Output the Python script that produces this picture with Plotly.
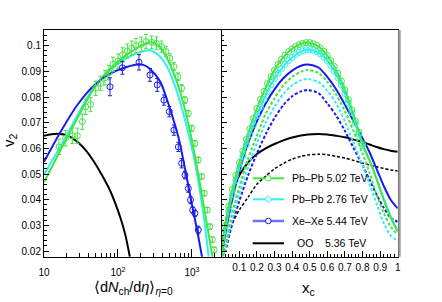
import plotly.graph_objects as go

# ---------------- Left panel: v2 vs <dNch/deta> ----------------
pbpb502_n = [15.96, 19.63, 24.15, 28.18, 32.96, 36.56, 42.66, 49.89, 58.34, 66.68, 75.51, 85.51,
             100.0, 115.6, 133.7, 153.1, 175.0, 206.5, 238.8, 285.1, 331.1, 389.0, 444.6, 501.2,
             570.2, 645.7, 724.4, 803.5, 891.3, 988.6, 1096, 1216, 1349, 1466, 1611, 1750, 1884, 1995]
pbpb502_v2 = [0.0606, 0.0639, 0.0649, 0.0649, 0.0704, 0.0762, 0.0771, 0.0834, 0.0853, 0.0875, 0.0895, 0.0927,
              0.0940, 0.0964, 0.0979, 0.0990, 0.1000, 0.1005, 0.1016, 0.1013, 0.1009, 0.0996, 0.0977, 0.0951,
              0.0918, 0.0879, 0.0834, 0.0788, 0.0736, 0.0678, 0.0619, 0.0555, 0.0490, 0.0425, 0.0360, 0.0295,
              0.0245, 0.0205]
pbpb502_err = [0.0030, 0.0030, 0.0030, 0.0030, 0.0030, 0.0030, 0.0028, 0.0028, 0.0028, 0.0028, 0.0028, 0.0028,
               0.0028, 0.0028, 0.0028, 0.0028, 0.0028, 0.0028, 0.0028, 0.0025, 0.0025, 0.0022, 0.0020, 0.0018,
               0.0016, 0.0015, 0.0014, 0.0013, 0.0012, 0.0012, 0.0011, 0.0011, 0.0010, 0.0010, 0.0010, 0.0010,
               0.0010, 0.0010]

xexe_n = [78.0, 114.6, 192.3, 270.4, 339.6, 417.8, 493.2, 570.2, 653.1, 724.4, 803.5, 891.3, 955.0, 1021, 1096, 1216]
xexe_v2 = [0.0840, 0.0914, 0.0935, 0.0886, 0.0847, 0.0788, 0.0743, 0.0671, 0.0606, 0.0542, 0.0496, 0.0444,
           0.0399, 0.0360, 0.0347, 0.0282]
xexe_err = [0.0035, 0.0025, 0.0030, 0.0025, 0.0025, 0.0020, 0.0020, 0.0020, 0.0018, 0.0018, 0.0015, 0.0015,
            0.0015, 0.0012, 0.0012, 0.0015]

model502_n = [10, 18.6, 28.2, 47.4, 79.4, 133.7, 223.9, 285.1, 354.8, 446.7, 562.3, 707.9, 912.0, 1122, 1349, 1622, 1905]
model502_v2 = [0.0468, 0.0619, 0.0717, 0.0834, 0.0912, 0.0966, 0.1005, 0.1013, 0.1000, 0.0958, 0.0895, 0.0810,
               0.0685, 0.0555, 0.0425, 0.0290, 0.0172]
model276_n = [10, 18.6, 28.2, 47.4, 79.4, 133.7, 223.9, 269.2, 354.8, 446.7, 562.3, 707.9, 891.3, 1072, 1288, 1479, 1679]
model276_v2 = [0.0499, 0.0632, 0.0728, 0.0840, 0.0905, 0.0953, 0.0979, 0.0982, 0.0963, 0.0925, 0.0860, 0.0770,
               0.0660, 0.0560, 0.0430, 0.0310, 0.0178]
modelxe_n = [10, 16.8, 28.2, 47.4, 79.4, 133.7, 182.0, 223.9, 269.2, 371.5, 446.7, 537.0, 660.7, 831.8, 1000, 1175, 1380]
modelxe_v2 = [0.0548, 0.0665, 0.0769, 0.0845, 0.0892, 0.0918, 0.0927, 0.0924, 0.0910, 0.0860, 0.0800, 0.0730,
              0.0639, 0.0500, 0.0380, 0.0280, 0.0170]
modeloo_n = [10, 12.6, 15.8, 21.4, 28.2, 36.3, 47.4, 61.7, 79.4, 108.6, 125.9, 144.5]
modeloo_v2 = [0.0649, 0.0655, 0.0657, 0.0648, 0.0626, 0.0594, 0.0548, 0.0492, 0.0431, 0.0327, 0.0262, 0.0178]

# ---------------- Right panel: v2 vs x_c ----------------
xc_pts = [0.00, 0.02, 0.04, 0.06, 0.08, 0.10, 0.12, 0.14, 0.16, 0.18, 0.20, 0.22, 0.24, 0.26, 0.28, 0.30,
          0.32, 0.34, 0.36, 0.38, 0.40, 0.42, 0.44, 0.46, 0.48, 0.50, 0.52, 0.54, 0.56, 0.58, 0.60, 0.62,
          0.64, 0.66, 0.68, 0.70, 0.72, 0.74, 0.76, 0.78, 0.80]
xc_pb502_v2 = [0.0200, 0.0300, 0.0375, 0.0440, 0.0495, 0.0545, 0.0590, 0.0635, 0.0677, 0.0717, 0.0755, 0.0790,
               0.0822, 0.0852, 0.0880, 0.0905, 0.0927, 0.0947, 0.0963, 0.0977, 0.0988, 0.0997, 0.1004, 0.1009,
               0.1012, 0.1012, 0.1008, 0.1001, 0.0991, 0.0978, 0.0962, 0.0942, 0.0919, 0.0892, 0.0862, 0.0828,
               0.0790, 0.0750, 0.0707, 0.0663, 0.0618]
xc_pb276_v2 = [0.0190, 0.0280, 0.0355, 0.0420, 0.0475, 0.0525, 0.0570, 0.0613, 0.0653, 0.0691, 0.0727, 0.0760,
               0.0791, 0.0820, 0.0847, 0.0871, 0.0892, 0.0911, 0.0927, 0.0942, 0.0954, 0.0965, 0.0974, 0.0980,
               0.0984, 0.0985, 0.0983, 0.0977, 0.0968, 0.0956, 0.0941, 0.0922, 0.0900, 0.0875, 0.0846, 0.0813,
               0.0777, 0.0738, 0.0697, 0.0655, 0.0612]

xc_line = [0.00, 0.02, 0.05, 0.10, 0.15, 0.20, 0.25, 0.30, 0.35, 0.40, 0.45, 0.49, 0.55, 0.60, 0.65, 0.70,
           0.75, 0.80, 0.84, 0.88, 0.92, 0.96, 1.00]
xc_pb502_line = [0.0190, 0.0300, 0.0410, 0.0545, 0.0657, 0.0755, 0.0837, 0.0905, 0.0955, 0.0988, 0.1007, 0.1012,
                 0.0996, 0.0962, 0.0905, 0.0828, 0.0730, 0.0618, 0.0555, 0.0480, 0.0400, 0.0330, 0.0276]
xc_pb276_line = [0.0190, 0.0280, 0.0390, 0.0525, 0.0633, 0.0727, 0.0806, 0.0871, 0.0919, 0.0954, 0.0977, 0.0985,
                 0.0972, 0.0941, 0.0888, 0.0813, 0.0718, 0.0612, 0.0552, 0.0482, 0.0405, 0.0335, 0.0280]
xc_xe_line = [0.0190, 0.0265, 0.0370, 0.0510, 0.0620, 0.0705, 0.0775, 0.0830, 0.0873, 0.0903, 0.0922, 0.0927,
              0.0915, 0.0878, 0.0830, 0.0770, 0.0705, 0.0640, 0.0585, 0.0520, 0.0455, 0.0400, 0.0366]
xc_pb502_dash = [0.0180, 0.0220, 0.0320, 0.0450, 0.0560, 0.0650, 0.0735, 0.0795, 0.0845, 0.0878, 0.0898, 0.0905,
                 0.0893, 0.0860, 0.0810, 0.0745, 0.0665, 0.0580, 0.0505, 0.0420, 0.0350, 0.0295, 0.0265]
xc_pb276_dash = [0.0180, 0.0210, 0.0300, 0.0425, 0.0530, 0.0620, 0.0700, 0.0762, 0.0812, 0.0845, 0.0865, 0.0870,
                 0.0858, 0.0825, 0.0775, 0.0705, 0.0620, 0.0535, 0.0460, 0.0385, 0.0310, 0.0260, 0.0240]
xc_xe_dash = [0.0180, 0.0200, 0.0280, 0.0395, 0.0495, 0.0580, 0.0655, 0.0718, 0.0768, 0.0803, 0.0822, 0.0827,
              0.0815, 0.0775, 0.0728, 0.0668, 0.0600, 0.0535, 0.0478, 0.0420, 0.0370, 0.0330, 0.0314]
xc_oo_line = [0.0200, 0.0300, 0.0400, 0.0495, 0.0545, 0.0578, 0.0600, 0.0617, 0.0631, 0.0642, 0.0650, 0.0654,
              0.0656, 0.0654, 0.0649, 0.0643, 0.0634, 0.0625, 0.0615, 0.0605, 0.0597, 0.0591, 0.0587]
xc_oo_dash = [0.0180, 0.0220, 0.0290, 0.0360, 0.0410, 0.0460, 0.0492, 0.0520, 0.0541, 0.0558, 0.0569, 0.0574,
              0.0577, 0.0575, 0.0569, 0.0562, 0.0553, 0.0543, 0.0535, 0.0528, 0.0522, 0.0516, 0.0512]

legend_labels = ["Pb\u2013Pb 5.02 TeV", "Pb\u2013Pb 2.76 TeV", "Xe\u2013Xe 5.44 TeV", "OO\u00a0\u00a0\u00a0\u00a05.36 TeV"]

GREEN = "#44e444"
CYAN = "#33eeee"
BLUE = "#1a1aee"
BLACK = "#000000"
FONT = "Liberation Sans, Arial, sans-serif"

W, H = 442, 302
fig = go.Figure()

def line(x, y, color, xa, ya, dash="solid", width=2):
    fig.add_trace(go.Scatter(x=x, y=y, mode="lines", xaxis=xa, yaxis=ya,
                             line=dict(color=color, width=width, dash=dash, shape="spline", smoothing=0.8),
                             showlegend=False, hoverinfo="skip"))

# left panel
line(modeloo_n, modeloo_v2, BLACK, "x", "y")
line(model276_n, model276_v2, CYAN, "x", "y")
line(model502_n, model502_v2, GREEN, "x", "y")
line(modelxe_n, modelxe_v2, BLUE, "x", "y")
fig.add_trace(go.Scatter(x=pbpb502_n, y=pbpb502_v2, mode="markers", xaxis="x", yaxis="y",
                         error_y=dict(type="data", array=pbpb502_err, color=GREEN, thickness=1, width=2),
                         marker=dict(symbol="circle-open", size=6, color=GREEN, line=dict(width=1)),
                         showlegend=False, hoverinfo="skip"))
fig.add_trace(go.Scatter(x=xexe_n, y=xexe_v2, mode="markers", xaxis="x", yaxis="y",
                         error_y=dict(type="data", array=xexe_err, color=BLUE, thickness=1, width=2),
                         marker=dict(symbol="circle-open", size=6, color=BLUE, line=dict(width=1)),
                         showlegend=False, hoverinfo="skip"))

# right panel
DASH = "3px,2px"
line(xc_line, xc_oo_dash, BLACK, "x2", "y2", dash=DASH, width=1.5)
line(xc_line, xc_oo_line, BLACK, "x2", "y2")
line(xc_line, xc_xe_dash, BLUE, "x2", "y2", dash=DASH)
line(xc_line, xc_pb276_dash, CYAN, "x2", "y2", dash=DASH)
line(xc_line, xc_pb502_dash, GREEN, "x2", "y2", dash=DASH)
line(xc_line, xc_xe_line, BLUE, "x2", "y2")
line(xc_line, xc_pb276_line, CYAN, "x2", "y2")
line(xc_line, xc_pb502_line, GREEN, "x2", "y2")
fig.add_trace(go.Scatter(x=xc_pts, y=xc_pb276_v2, mode="markers", xaxis="x2", yaxis="y2",
                         marker=dict(symbol="circle-open", size=6, color=CYAN, line=dict(width=1)),
                         showlegend=False, hoverinfo="skip"))
fig.add_trace(go.Scatter(x=xc_pts, y=xc_pb502_v2, mode="markers", xaxis="x2", yaxis="y2",
                         marker=dict(symbol="circle-open", size=6, color=GREEN, line=dict(width=1)),
                         showlegend=False, hoverinfo="skip"))

# geometry (pixels -> paper)
def px(x):
    return x / W

def py(y):
    return 1 - y / H

XL0, XL1, XR0, XR1 = 44, 220.7, 221.7, 397.7
YT, YB = 30, 256.7

yax = dict(range=[0.0178, 0.1061], tickmode="array",
           tickvals=[0.02, 0.03, 0.04, 0.05, 0.06, 0.07, 0.08, 0.09, 0.1],
           ticktext=["0.02", "0.03", "0.04", "0.05", "0.06", "0.07", "0.08", "0.09", "0.1"],
           ticks="inside", ticklen=5, tickwidth=1, tickcolor="black",
           showline=True, linecolor="black", linewidth=1, mirror=True,
           showgrid=False, zeroline=False, automargin=False,
           minor=dict(ticks="inside", ticklen=2.5, tick0=0, dtick=0.002, tickcolor="black", showgrid=False),
           domain=[py(YB), py(YT)])

minor_log = [20, 30, 40, 50, 60, 70, 80, 90, 200, 300, 400, 500, 600, 700, 800, 900, 2000]

fig.update_layout(
    template="none",
    width=W, height=H, margin=dict(l=0, r=0, t=0, b=0, pad=0, autoexpand=False),
    paper_bgcolor="white", plot_bgcolor="white",
    font=dict(family=FONT, size=10, color="black"),
    showlegend=False,
    xaxis=dict(type="log", range=[1, 3.388], domain=[px(XL0), px(XL1)], anchor="y",
               tickmode="array", tickvals=[10, 100, 1000], ticktext=["10", "10<sup>2</sup>", "10<sup>3</sup>"],
               ticks="inside", ticklen=8, tickwidth=1, tickcolor="black", ticklabelstandoff=6,
               showline=True, linecolor="black", linewidth=1, mirror=True, showgrid=False, zeroline=False,
               automargin=False,
               minor=dict(ticks="inside", ticklen=4, tickmode="array", tickvals=minor_log,
                          tickcolor="black", showgrid=False)),
    xaxis2=dict(range=[0, 1], domain=[px(XR0), px(XR1)], anchor="y2",
                tickmode="array", tickvals=[0.1, 0.2, 0.3, 0.4, 0.5, 0.6, 0.7, 0.8, 0.9, 1.0],
                ticktext=["0.1", "0.2", "0.3", "0.4", "0.5", "0.6", "0.7", "0.8", "0.9", "1"],
                ticks="inside", ticklen=6, tickwidth=1, tickcolor="black", ticklabelstandoff=1,
                showline=True, linecolor="black", linewidth=1, mirror=True, showgrid=False, zeroline=False,
                automargin=False,
                minor=dict(ticks="inside", ticklen=3, tick0=0, dtick=0.02, tickcolor="black", showgrid=False)),
    yaxis=dict(yax, anchor="x"),
    yaxis2=dict(yax, anchor="x2", matches="y", showticklabels=False),
)

shapes = []
# grey frame shadow on the right edge
shapes.append(dict(type="rect", xref="paper", yref="paper", x0=px(XR1 + 0.5), x1=px(XR1 + 3),
                   y0=py(YB), y1=py(YT), fillcolor="#9a9a9a", line=dict(width=0), layer="above"))

annotations = []
# axis titles
annotations.append(dict(text="v<sub>2</sub>", x=px(10), y=py(140), xref="paper", yref="paper",
                        xanchor="center", yanchor="middle",
                        showarrow=False, textangle=-90, font=dict(size=15, family=FONT)))
annotations.append(dict(text="\u27e8d<i>N</i><sub>ch</sub>/d<i>\u03b7</i>\u27e9<sub><i>\u03b7</i>=0</sub>",
                        x=px(133), y=py(288), xref="paper", yref="paper", xanchor="center", yanchor="middle",
                        showarrow=False, font=dict(size=14.5, family=FONT)))
annotations.append(dict(text="x<sub>c</sub>", x=px(308), y=py(288), xref="paper", yref="paper",
                        xanchor="center", yanchor="middle",
                        showarrow=False, font=dict(size=15, family=FONT)))

# legend (drawn manually)
leg_rows = [178.3, 199.3, 221.0, 243.3]
leg_colors = [GREEN, CYAN, "#7070ff", BLACK]
leg_mcolors = [GREEN, CYAN, BLUE, None]
for i, (yy, lab) in enumerate(zip(leg_rows, legend_labels)):
    shapes.append(dict(type="line", xref="paper", yref="paper", x0=px(252.7), x1=px(284), y0=py(yy), y1=py(yy),
                       line=dict(color=leg_colors[i], width=2 if i != 2 else 2.5), layer="above"))
    if leg_mcolors[i]:
        r = 2.8
        shapes.append(dict(type="circle", xref="paper", yref="paper", x0=px(268.3 - r), x1=px(268.3 + r),
                           y0=py(yy + r), y1=py(yy - r), fillcolor="white",
                           line=dict(color=leg_mcolors[i], width=1), layer="above"))
    annotations.append(dict(text=lab, x=px(289.5 if i < 3 else 294.5), y=py(yy), xref="paper", yref="paper",
                            xanchor="left", yanchor="middle", showarrow=False,
                            font=dict(size=10.5, family=FONT)))

fig.update_layout(shapes=shapes, annotations=annotations)
fig.write_html("out.html", config={"displayModeBar": False},
               post_script="document.body.style.margin='0px';")
